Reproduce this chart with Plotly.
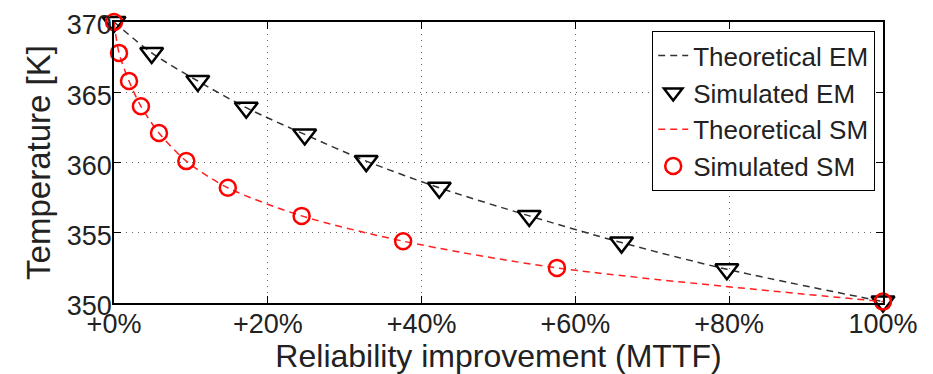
import plotly.graph_objects as go

# Data
em_x = [0, 4.9, 10.9, 17.2, 24.8, 32.8, 42.3, 54.0, 66.0, 79.7, 100]
em_y = [370, 367.8, 365.8, 363.9, 362.0, 360.1, 358.2, 356.2, 354.3, 352.4, 350.1]
sm_x = [0, 0.65, 1.95, 3.5, 5.85, 9.4, 14.8, 24.4, 37.6, 57.6, 100]
sm_y = [370, 367.8, 365.8, 364.0, 362.1, 360.1, 358.2, 356.2, 354.4, 352.5, 350.1]

x_tickvals = [0, 20, 40, 60, 80, 100]
x_ticktext = ["+0%", "+20%", "+40%", "+60%", "+80%", "100%"]
y_tickvals = [350, 355, 360, 365, 370]

FONT = "Liberation Sans, Arial, Helvetica, sans-serif"

fig = go.Figure()
fig.add_trace(go.Scatter(
    x=em_x, y=em_y, mode="lines", name="Theoretical EM",
    line=dict(color="#333333", width=1.5, dash="7px,5px", shape="spline", smoothing=0.8),
    cliponaxis=False))
fig.add_trace(go.Scatter(
    x=em_x, y=em_y, mode="markers", name="Simulated EM",
    marker=dict(symbol="triangle-down-open", size=20, color="black", line=dict(width=2.5, color="black")),
    cliponaxis=False))
fig.add_trace(go.Scatter(
    x=sm_x, y=sm_y, mode="lines", name="Theoretical SM",
    line=dict(color="#ff2020", width=1.5, dash="7px,5px", shape="spline", smoothing=0.8),
    cliponaxis=False))
fig.add_trace(go.Scatter(
    x=sm_x, y=sm_y, mode="markers", name="Simulated SM",
    marker=dict(symbol="circle-open", size=16, color="#ff0000", line=dict(width=2.5, color="#ff0000")),
    cliponaxis=False))

axis_common = dict(
    showline=True, linecolor="black", linewidth=1.5, mirror="ticks",
    ticks="inside", ticklen=7, tickwidth=1.2, tickcolor="black",
    showgrid=True, gridcolor="#666666", griddash="1px,5px", gridwidth=1,
    zeroline=False, automargin=False,
    tickfont=dict(family=FONT, size=27, color="#222222"),
)

fig.update_layout(
    width=933, height=374,
    margin=dict(l=114, r=50, t=22, b=71),
    paper_bgcolor="white", plot_bgcolor="white",
    font=dict(family=FONT, color="#222222"),
    xaxis=dict(range=[0, 100], tickvals=x_tickvals, ticktext=x_ticktext,
               ticklabelstandoff=-4,
               title=dict(text="Reliability improvement (MTTF)", font=dict(family=FONT, size=32), standoff=5),
               **axis_common),
    yaxis=dict(range=[350, 370], tickvals=y_tickvals, ticklabelstandoff=-5,
               ticklabelshift=3,
               title=dict(text="Temperature [K]", font=dict(family=FONT, size=33), standoff=6),
               **axis_common),
    legend=dict(x=0.9896, y=0.968, xanchor="right", yanchor="top",
                bgcolor="white", bordercolor="black", borderwidth=1.2,
                font=dict(family=FONT, size=26, color="#222222"),
                tracegroupgap=0, itemsizing="trace"),
    showlegend=True,
)

fig.write_html("out.html")
